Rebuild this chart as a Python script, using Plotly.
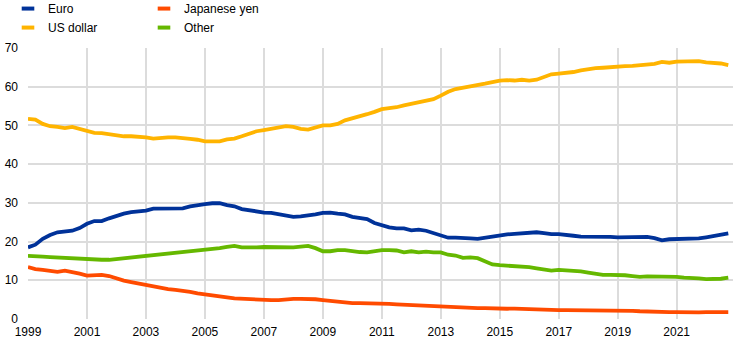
import plotly.graph_objects as go

# Quarterly data, 1999Q1 - 2022Q4 (shares, %)
start_year = 1999
euro = [18.5, 19.2, 20.7, 21.7, 22.4, 22.7, 22.8, 23.5, 24.6, 25.3, 25.3, 26.0, 26.7, 27.2, 27.6, 27.7, 28.0,
        28.5, 28.5, 28.4, 28.4, 28.6, 29.1, 29.5, 29.7, 29.9, 29.9, 29.4, 29.1, 28.4, 28.1, 27.7, 27.5, 27.4,
        27.1, 26.6, 26.4, 26.5, 26.7, 27.0, 27.4, 27.5, 27.2, 27.0, 26.4, 26.0, 25.8, 24.8, 24.1, 23.65,
        23.4, 23.4, 22.9, 23.1, 22.8, 22.2, 21.6, 21.0, 21.0, 21.0, 20.8, 20.7, 21.0, 21.4, 21.7, 21.85,
        22.0, 22.2, 22.4, 22.4, 22.2, 21.9, 21.9, 21.8, 21.5, 21.3, 21.3, 21.4, 21.2, 21.2, 21.1,
        21.1, 21.0, 21.1, 21.2, 20.9, 20.3, 20.6, 20.6, 20.6, 20.7, 20.8, 21.1, 21.4, 21.7, 22.1]
usd = [51.7, 51.5, 50.4, 49.8, 49.6, 49.3, 49.6, 49.1, 48.7, 48.1, 48.0, 47.7, 47.4, 47.2, 47.2, 47.1, 46.9,
       46.6, 46.8, 46.9, 46.9, 46.8, 46.5, 46.3, 45.9, 45.9, 45.9, 46.4, 46.6, 47.2, 47.8, 48.5, 48.8, 49.2,
       49.5, 49.8, 49.6, 49.1, 48.9, 49.4, 50.0, 50.0, 50.4, 51.3, 51.8, 52.2, 52.9, 53.5, 54.2, 54.5,
       54.7, 55.2, 55.6, 55.8, 56.4, 56.8, 57.7, 58.7, 59.4, 59.7, 60.2, 60.4, 60.8, 61.2, 61.6, 61.7,
       61.6, 61.8, 61.6, 61.8, 62.6, 63.2, 63.4, 63.5, 63.8, 64.2, 64.6, 64.8, 64.9, 65.1, 65.2,
       65.3, 65.4, 65.6, 65.8, 65.9, 66.4, 66.2, 66.5, 66.6, 66.7, 66.6, 66.3, 66.2, 66.0, 65.6]
yen = [13.4, 12.9, 12.7, 12.4, 12.2, 12.5, 12.2, 11.7, 11.2, 11.2, 11.4, 11.1, 10.4, 9.9, 9.5, 9.1, 8.7,
       8.3, 7.9, 7.7, 7.5, 7.3, 7.0, 6.6, 6.4, 6.1, 5.8, 5.6, 5.3, 5.2, 5.0, 4.9, 4.9, 4.9,
       4.9, 5.1, 5.2, 5.2, 5.2, 5.1, 4.9, 4.7, 4.4, 4.2, 4.1, 4.1, 4.1, 4.1, 4.0, 3.9,
       3.8, 3.7, 3.5, 3.4, 3.4, 3.3, 3.1, 3.0, 3.0, 2.9, 2.9, 2.8, 2.8, 2.7, 2.7, 2.65,
       2.7, 2.6, 2.6, 2.5, 2.5, 2.4, 2.3, 2.3, 2.3, 2.2, 2.2, 2.2, 2.2, 2.2, 2.2,
       2.2, 2.1, 2.0, 1.9, 1.8, 1.8, 1.8, 1.8, 1.7, 1.7, 1.7, 1.8, 1.8, 1.8, 1.8]
other = [16.3, 16.3, 16.1, 16.0, 15.9, 15.7, 15.5, 15.5, 15.5, 15.3, 15.3, 15.3, 15.5, 15.7, 15.9, 16.0, 16.1,
         16.3, 16.5, 16.9, 16.9, 17.2, 17.3, 17.6, 17.8, 17.9, 18.3, 18.6, 18.9, 18.5, 18.4, 18.5, 18.6, 18.55,
         18.4, 18.4, 18.5, 18.7, 18.9, 18.3, 17.5, 17.5, 17.8, 17.8, 17.5, 17.3, 17.2, 17.5, 17.8, 17.8,
         17.7, 17.2, 17.5, 17.2, 17.4, 17.2, 17.2, 16.6, 16.4, 15.8, 15.9, 15.7, 15.0, 14.1, 13.9, 13.8,
         13.7, 13.4, 13.4, 13.1, 12.8, 12.5, 12.7, 12.6, 12.4, 12.3, 12.0, 11.7, 11.4, 11.4, 11.4,
         11.3, 11.1, 10.9, 11.0, 11.0, 11.1, 11.1, 10.9, 10.7, 10.7, 10.5, 10.3, 10.3, 10.4, 10.7]

x = [start_year + i / 4 for i in range(len(euro))]
tick_years = list(range(1999, 2022, 2))
tick_labels = [str(y) for y in tick_years]

series = [
    ("Euro", euro, "#003299", "legend"),
    ("US dollar", usd, "#FFB400", "legend"),
    ("Japanese yen", yen, "#FF4B00", "legend2"),
    ("Other", other, "#65B800", "legend2"),
]

fig = go.Figure()
for name, vals, col, lg in series:
    fig.add_trace(go.Scatter(x=x, y=vals, mode="lines", name=name,
                             line=dict(color=col, width=3.8), showlegend=False,
                             hoverinfo="skip"))
for name, vals, col, lg in series:
    fig.add_trace(go.Scatter(x=[None], y=[None], mode="markers", name=name, legend=lg,
                             marker=dict(symbol="line-ew", size=9, color=col,
                                         line=dict(color=col, width=4))))

fig.update_layout(
    width=744, height=345,
    margin=dict(l=28, r=11, t=48, b=26, autoexpand=False),
    plot_bgcolor="white", paper_bgcolor="white",
    font=dict(family="Liberation Sans, Arial, sans-serif", size=12, color="#000000"),
    legend=dict(x=8 / 744, y=1.199, xref="container", yref="paper", xanchor="left", yanchor="top",
                bgcolor="rgba(0,0,0,0)", itemwidth=30, tracegroupgap=0,
                font=dict(size=12)),
    legend2=dict(x=144 / 744, y=1.199, xref="container", yref="paper", xanchor="left", yanchor="top",
                 bgcolor="rgba(0,0,0,0)", itemwidth=30, tracegroupgap=0,
                 font=dict(size=12)),
)
fig.update_xaxes(range=[1999, 2022.91], tickmode="array", tickvals=tick_years, ticktext=tick_labels,
                 showgrid=True, gridcolor="#dcdcdc", gridwidth=1.5, zeroline=False,
                 showline=False, ticks="", ticklabelstandoff=4)
fig.update_yaxes(range=[0, 70], dtick=10, showgrid=True, gridcolor="#dcdcdc", gridwidth=1.5,
                 zeroline=False, showline=False, ticks="", ticklabelstandoff=9)

fig.write_html("out.html")
